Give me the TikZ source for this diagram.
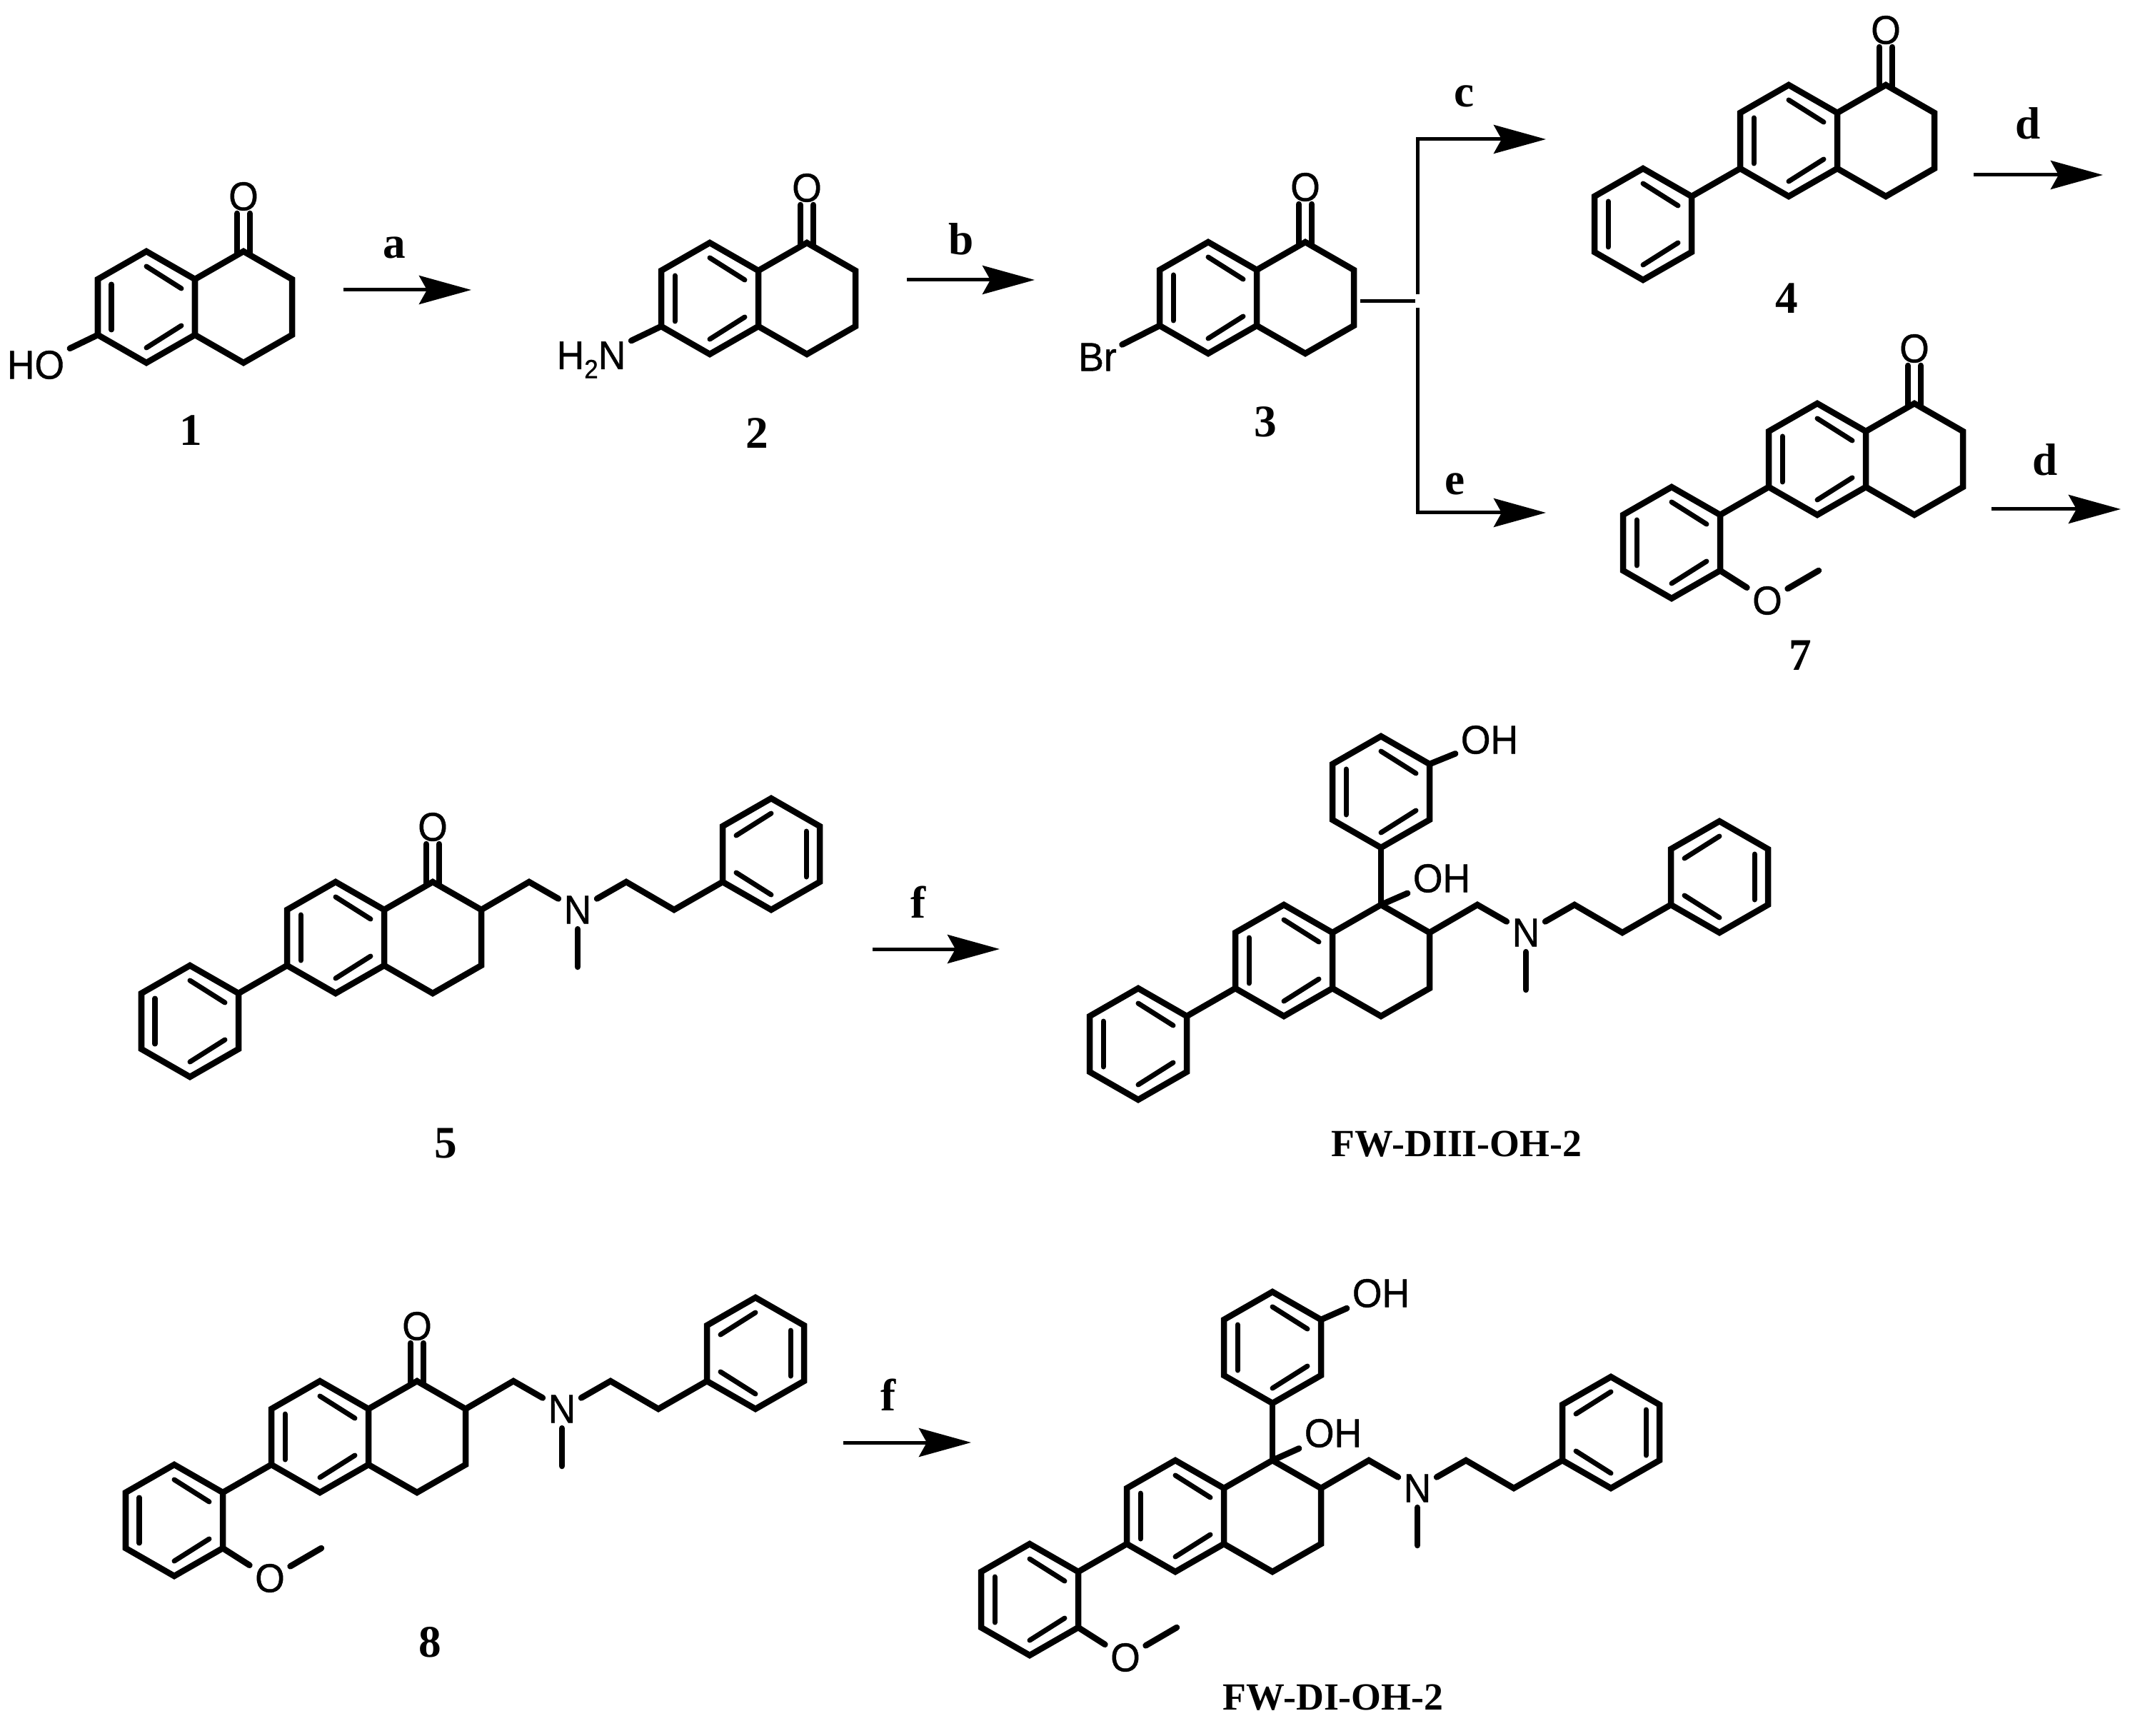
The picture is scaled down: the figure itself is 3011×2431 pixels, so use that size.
\documentclass[tikz,border=0pt]{standalone}
\usepackage{fontspec}
\setmainfont{Liberation Serif}
\newfontfamily\atomfont[FakeStretch=0.95, FakeBold=0.8]{Liberation Sans}
\usetikzlibrary{arrows.meta}
\tikzset{
  bond/.style={line width=0.085cm, line cap=round},
  innerbond/.style={line width=0.07cm, line cap=round},
  thinline/.style={line width=0.05cm},
  reaction/.style={thinline, -{Stealth[length=0.73cm, width=0.4cm, inset=0.11cm]}},
  atom/.style={font=\atomfont\fontsize{16}{16}\selectfont, inner sep=2pt},
  steplabel/.style={font=\bfseries\fontsize{18}{18}\selectfont, inner sep=0pt},
  molname/.style={font=\bfseries\fontsize{15.3}{15.3}\selectfont, inner sep=0pt}
}
% benzene ring: name, centre x, centre y, 1 or -1 for the side of the double bonds
\newcommand{\benzring}[4]{
\begin{scope}[shift={(#2,#3)}, xscale=#4]
\draw[bond] (0,-78) coordinate (#1a) -- (68,-39) coordinate (#1b) -- (68,39) coordinate (#1c) -- (0,78) coordinate (#1d) -- (-68,39) coordinate (#1e) -- (-68,-39) coordinate (#1f) -- cycle;
\draw[innerbond] (-49,-32) -- (-49,32);
\draw[innerbond] (0,-57) -- (49,-26);
\draw[innerbond] (0,57) -- (49,26);
\end{scope}
}
% the two fused rings, x and y give the middle of the shared bond
\newcommand{\tetralin}[3]{
\benzring{#1}{#2-68}{#3}{1}
\begin{scope}[shift={(#2,#3)}]
\draw[bond] (0,-39) -- (68,-78) coordinate (#1U) -- (136,-39) coordinate (#1A) -- (136,39) -- (68,78) -- (0,39);
\end{scope}
}
\newcommand{\ketone}[3]{
\begin{scope}[shift={(#2+68,#3-78)}]
\draw[bond] (-9,4) -- (-9,-53);
\draw[bond] (9,4) -- (9,-53);
\end{scope}
\node(#1O) [atom] at (#2+68,#3-155) {O};
}
\newcommand{\phenyltail}[3]{
\benzring{#1P}{#2-272}{#3+117}{1}
\draw[bond] (#1e) -- (#1Pb);
}
\newcommand{\methoxy}[3]{
\node(#1X) [atom] at (#2-138,#3+198) {O};
\coordinate (#1Y) at (#2-66,#3+156);
\draw[bond] (#1Pc) -- (#1X);
\draw[bond] (#1X) -- (#1Y);
}
\newcommand{\aminechain}[3]{
\begin{scope}[shift={(#2,#3)}]
\coordinate (#1C) at (203,-78);
\node(#1N) [atom] at (271,-39) {N};
\coordinate (#1D) at (339,-78);
\coordinate (#1E) at (406,-39);
\coordinate (#1M) at (271,41);
\end{scope}
\benzring{#1S}{#2+542}{#3-117}{-1}
\draw[bond] (#1A) -- (#1C) -- (#1N);
\draw[bond] (#1N) -- (#1D) -- (#1E) -- (#1Sc);
\draw[bond] (#1N) -- (#1M);
}
\newcommand{\hydroxyaryl}[3]{
\benzring{#1T}{#2+68}{#3-236}{1}
\draw[bond] (#1U) -- (#1Td);
}
\begin{document}
\begin{tikzpicture}[x=0.01cm, y=-0.01cm]
\useasboundingbox (0,0) rectangle (3011,2431);
% top row
\tetralin{A}{273}{430}
\ketone{A}{273}{430}
\node(AH) [atom] at (50,511) {HO};
\draw[bond] (Ae) -- (AH);
\node(n1) [steplabel] at (267,603) {1};
\tetralin{B}{1062}{418}
\ketone{B}{1062}{418}
\node(BH) [atom, anchor=base] at (828,517) {H\raisebox{-3.6pt}{\fontsize{10.5}{10.5}\selectfont 2}N};
\draw[bond] (Be) -- (BH);
\node(n2) [steplabel] at (1060,607) {2};
\tetralin{C}{1760}{417}
\ketone{C}{1760}{417}
\node(CH) [atom] at (1537,500) {Br};
\draw[bond] (Ce) -- (CH);
\node(n3) [steplabel] at (1772,591) {3};
\tetralin{D}{2573}{197}
\ketone{D}{2573}{197}
\phenyltail{D}{2573}{197}
\node(n4) [steplabel] at (2502,418) {4};
\tetralin{G}{2613}{643}
\ketone{G}{2613}{643}
\phenyltail{G}{2613}{643}
\methoxy{G}{2613}{643}
\node(n7) [steplabel] at (2521,918) {7};
% arrows of the top row
\coordinate (a1) at (481,406);
\coordinate (a2) at (660,406);
\draw[reaction] (a1) -- (a2);
\node(la) [steplabel] at (552,347) {a};
\coordinate (b1) at (1270,392);
\coordinate (b2) at (1449,392);
\draw[reaction] (b1) -- (b2);
\node(lb) [steplabel] at (1346,335) {b};
\coordinate (s1) at (1905,422);
\coordinate (s2) at (1982,422);
\draw[thinline] (s1) -- (s2);
\coordinate (c0) at (1985,412);
\coordinate (c1) at (1985,195);
\coordinate (c2) at (2165,195);
\draw[reaction] (c0) -- (c1) -- (c2);
\node(lc) [steplabel] at (2051,135) {c};
\coordinate (e0) at (1985,431);
\coordinate (e1) at (1985,718);
\coordinate (e2) at (2165,718);
\draw[reaction] (e0) -- (e1) -- (e2);
\node(le) [steplabel] at (2038,678) {e};
\coordinate (d1) at (2764,245);
\coordinate (d2) at (2945,245);
\draw[reaction] (d1) -- (d2);
\node(ld) [steplabel] at (2840,173) {d};
\coordinate (d3) at (2789,713);
\coordinate (d4) at (2970,713);
\draw[reaction] (d3) -- (d4);
\node(ldd) [steplabel] at (2864,644) {d};
% middle row
\tetralin{H}{538}{1313}
\ketone{H}{538}{1313}
\phenyltail{H}{538}{1313}
\aminechain{H}{538}{1313}
\node(n5) [steplabel] at (624,1601) {5};
\coordinate (f1) at (1222,1329);
\coordinate (f2) at (1400,1329);
\draw[reaction] (f1) -- (f2);
\node(lf) [steplabel] at (1286,1263) {f};
\tetralin{K}{1866}{1345}
\phenyltail{K}{1866}{1345}
\aminechain{K}{1866}{1345}
\hydroxyaryl{K}{1866}{1345}
\node(KO) [atom] at (2086,1036) {OH};
\draw[bond] (KTb) -- (KO);
\node(KH) [atom] at (2019,1230) {OH};
\draw[bond] (KU) -- (KH);
\node(nK) [molname] at (2040,1602) {FW-DIII-OH-2};
% bottom row
\tetralin{M}{516}{2012}
\ketone{M}{516}{2012}
\phenyltail{M}{516}{2012}
\methoxy{M}{516}{2012}
\aminechain{M}{516}{2012}
\node(n8) [steplabel] at (602,2300) {8};
\coordinate (f3) at (1181,2020);
\coordinate (f4) at (1360,2020);
\draw[reaction] (f3) -- (f4);
\node(lff) [steplabel] at (1244,1953) {f};
\tetralin{Q}{1714}{2123}
\phenyltail{Q}{1714}{2123}
\methoxy{Q}{1714}{2123}
\aminechain{Q}{1714}{2123}
\hydroxyaryl{Q}{1714}{2123}
\node(QO) [atom] at (1934,1811) {OH};
\draw[bond] (QTb) -- (QO);
\node(QH) [atom] at (1867,2007) {OH};
\draw[bond] (QU) -- (QH);
\node(nQ) [molname] at (1867,2377) {FW-DI-OH-2};
\end{tikzpicture}
\end{document}
